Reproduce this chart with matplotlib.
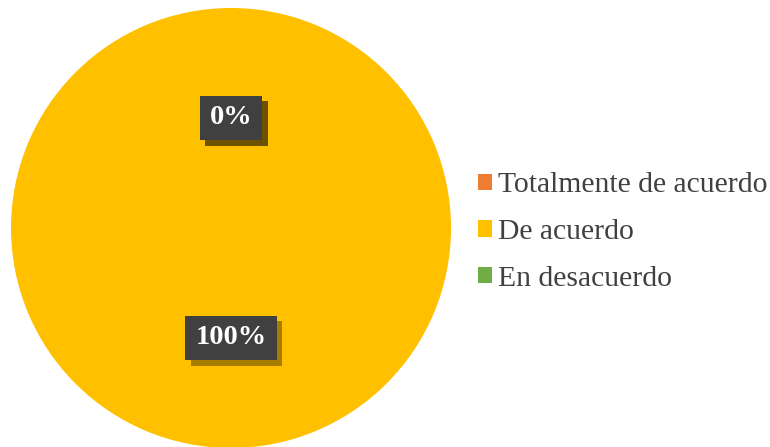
import matplotlib
matplotlib.use("Agg")
import matplotlib.pyplot as plt
import matplotlib.patheffects as pe

categories = ["Totalmente de acuerdo", "De acuerdo", "En desacuerdo"]
values = [0, 100, 0]
colors = ["#ED7D31", "#FFC000", "#70AD47"]

plt.rcParams["font.family"] = ["Liberation Serif", "DejaVu Serif"]

fig = plt.figure(figsize=(7.70, 4.47), dpi=100)
ax = fig.add_axes([11 / 770, -1 / 447, 440 / 770, 440 / 447])

wedges, texts, autotexts = ax.pie(
    values, colors=colors, startangle=90, counterclock=False,
    autopct=lambda p: f"{p:.0f}%", pctdistance=0.5,
    wedgeprops=dict(linewidth=0),
    textprops=dict(color="white", fontsize=20.5, fontweight="bold"),
)
ax.set_xlim(-1, 1)
ax.set_ylim(-1, 1)
ax.set_aspect("equal")

shadow = [pe.SimplePatchShadow(offset=(4, -4), shadow_rgbFace="#000000", alpha=0.35),
          pe.Normal()]
for t in autotexts:
    t.set_bbox(dict(boxstyle="square,pad=0.35", facecolor="#404040", edgecolor="none"))
    t.get_bbox_patch().set_path_effects(shadow)

fig.legend(wedges, categories, loc="center left", bbox_to_anchor=(451 / 770, 215 / 447),
           frameon=False, fontsize=21.3, labelcolor="#404040",
           handlelength=0.47, handleheight=0.47, handletextpad=0.22,
           labelspacing=0.7)

fig.savefig("out.png", dpi=100)
